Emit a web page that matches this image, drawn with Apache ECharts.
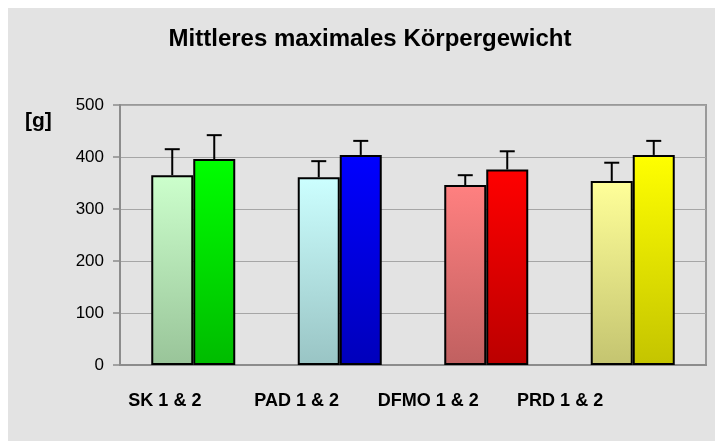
<!DOCTYPE html>
<html>
<head>
<meta charset="utf-8">
<script src="https://cdn.jsdelivr.net/npm/echarts@6/dist/echarts.min.js"></script>
<style>
  html, body { margin: 0; padding: 0; background: #fff; }
  #chart { width: 715px; height: 441px; }
</style>
</head>
<body>
<div id="chart"></div>
<script>
// data
const categories = ['SK 1 & 2', 'PAD 1 & 2', 'DFMO 1 & 2', 'PRD 1 & 2']
const values1 = [365, 361, 346, 354]
const values2 = [396, 404, 376, 404]
const errors1 = [50, 31, 19, 35]
const errors2 = [46, 27, 35, 27]

// bar colours, top -> bottom of each gradient
const topColors1 = ['#ccffcc', '#ccffff', '#ff8080', '#ffff99']
const bottomColors1 = ['#99c499', '#99c4c4', '#c06060', '#c4c470']
const topColors2 = ['#00ff00', '#0000ff', '#ff0000', '#ffff00']
const bottomColors2 = ['#00bb00', '#0000bb', '#bb0000', '#c4c400']

const FONT = "'Liberation Sans', Arial, sans-serif"
const BAR_WIDTH = 42

function gradient (top, bottom) {
  return new echarts.graphic.LinearGradient(0, 0, 0, 1, [
    { offset: 0, color: top },
    { offset: 1, color: bottom }
  ])
}

function barSeries (values, tops, bottoms) {
  return {
    type: 'bar',
    xAxisIndex: 0,
    yAxisIndex: 0,
    barWidth: BAR_WIDTH,
    barGap: '0%',
    itemStyle: { borderColor: '#000', borderWidth: 2 },
    data: values.map((v, i) => ({
      value: v,
      itemStyle: { color: gradient(tops[i], bottoms[i]) }
    }))
  }
}

// upper error bar with a small cap, drawn over each bar
function errorSeries (values, errors, offset) {
  return {
    type: 'custom',
    xAxisIndex: 0,
    yAxisIndex: 0,
    z: 5,
    data: values.map((v, i) => [i, v, errors[i]]),
    renderItem (params, api) {
      const i = api.value(0)
      const v = api.value(1)
      const e = api.value(2)
      const base = api.coord([i, v])
      const top = api.coord([i, v + e])
      const x = base[0] + offset
      const style = { stroke: '#000', lineWidth: 2 }
      return {
        type: 'group',
        children: [
          { type: 'line', shape: { x1: x, y1: base[1], x2: x, y2: top[1] }, style },
          { type: 'line', shape: { x1: x - 7.5, y1: top[1], x2: x + 7.5, y2: top[1] }, style }
        ]
      }
    }
  }
}

const chart = echarts.init(document.getElementById('chart'))
chart.setOption({
  animation: false,
  backgroundColor: '#fff',
  graphic: [{
    type: 'rect',
    z: -10,
    shape: { x: 8, y: 8, width: 707, height: 433 },
    style: { fill: '#e3e3e3' }
  }],
  title: [
    {
      text: 'Mittleres maximales Körpergewicht',
      left: 365,
      top: 22,
      textAlign: 'center',
      textStyle: { fontFamily: FONT, fontSize: 24, fontWeight: 'bold', color: '#000' }
    },
    {
      text: '[g]',
      left: 20,
      top: 106,
      textStyle: { fontFamily: FONT, fontSize: 21, fontWeight: 'bold', color: '#000' }
    }
  ],
  grid: [
    { left: 120, right: 9, top: 105, bottom: 76, show: true, borderColor: '#999', borderWidth: 2 },
    // the category names sit on a slightly narrower band than the bars
    { left: 99, width: 527, top: 105, bottom: 76, show: false }
  ],
  xAxis: [
    {
      gridIndex: 0,
      type: 'category',
      data: categories,
      axisLine: { lineStyle: { color: '#8c8c8c', width: 2 } },
      axisTick: { show: false },
      axisLabel: { show: false }
    },
    {
      gridIndex: 1,
      type: 'category',
      data: categories,
      axisLine: { show: false },
      axisTick: { show: false },
      axisLabel: { interval: 0, margin: 27, fontFamily: FONT, fontSize: 18, fontWeight: 'bold', color: '#000' }
    }
  ],
  yAxis: [
    {
      gridIndex: 0,
      type: 'value',
      min: 0,
      max: 500,
      interval: 100,
      axisLine: { show: true, lineStyle: { color: '#8c8c8c', width: 2 } },
      axisTick: { show: true, length: 7, lineStyle: { color: '#8c8c8c', width: 1.5 } },
      axisLabel: { margin: 16, fontFamily: FONT, fontSize: 17, color: '#000' },
      splitLine: { lineStyle: { color: '#a6a6a6', width: 1 } }
    },
    { gridIndex: 1, type: 'value', min: 0, max: 500, show: false }
  ],
  series: [
    barSeries(values1, topColors1, bottomColors1),
    barSeries(values2, topColors2, bottomColors2),
    errorSeries(values1, errors1, -BAR_WIDTH / 2),
    errorSeries(values2, errors2, BAR_WIDTH / 2)
  ]
})
</script>
</body>
</html>
